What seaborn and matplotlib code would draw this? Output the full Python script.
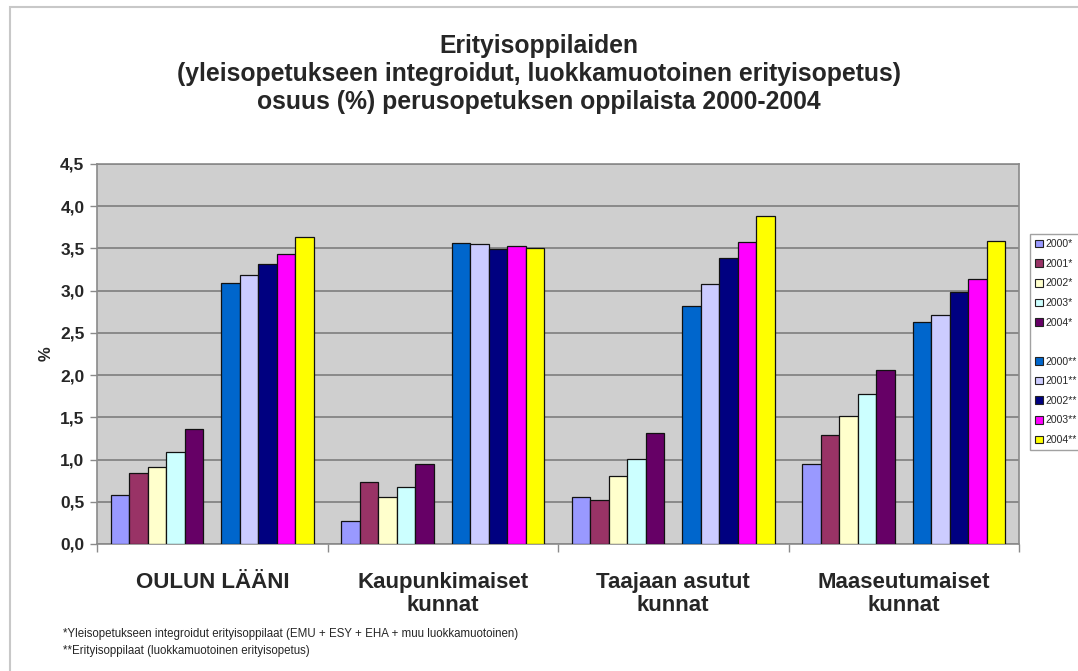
import matplotlib
matplotlib.use("Agg")
import matplotlib.pyplot as plt
import matplotlib.patches as mpatches
from matplotlib.ticker import FuncFormatter, FixedLocator
import seaborn as sns
import pandas as pd

# ---------------- data ----------------
categories = ["OULUN LÄÄNI", "Kaupunkimaiset\nkunnat", "Taajaan asutut\nkunnat", "Maaseutumaiset\nkunnat"]
series = ["2000*", "2001*", "2002*", "2003*", "2004*", " ",
          "2000**", "2001**", "2002**", "2003**", "2004**"]
v2000a = [0.58, 0.27, 0.56, 0.95]
v2001a = [0.84, 0.73, 0.52, 1.29]
v2002a = [0.91, 0.56, 0.81, 1.51]
v2003a = [1.09, 0.68, 1.01, 1.78]
v2004a = [1.36, 0.95, 1.31, 2.06]
blank = [0.0, 0.0, 0.0, 0.0]
v2000b = [3.09, 3.56, 2.82, 2.63]
v2001b = [3.18, 3.55, 3.08, 2.71]
v2002b = [3.31, 3.49, 3.39, 2.98]
v2003b = [3.43, 3.53, 3.58, 3.14]
v2004b = [3.63, 3.51, 3.89, 3.59]
values = [v2000a, v2001a, v2002a, v2003a, v2004a, blank,
          v2000b, v2001b, v2002b, v2003b, v2004b]
colors = ["#9999FF", "#993366", "#FFFFCC", "#CCFFFF", "#660066", "#FFFFFF",
          "#0066CC", "#CCCCFF", "#000080", "#FF00FF", "#FFFF00"]
yticks = [0.0, 0.5, 1.0, 1.5, 2.0, 2.5, 3.0, 3.5, 4.0, 4.5]
title = ("Erityisoppilaiden\n(yleisopetukseen integroidut, luokkamuotoinen erityisopetus)\n"
         "osuus (%) perusopetuksen oppilaista 2000-2004")
note1 = "*Yleisopetukseen integroidut erityisoppilaat (EMU + ESY + EHA + muu luokkamuotoinen)"
note2 = "**Erityisoppilaat (luokkamuotoinen erityisopetus)"

rows = []
for s, vals in zip(series, values):
    for c, v in zip(categories, vals):
        rows.append({"cat": c, "series": s, "value": v})
df = pd.DataFrame(rows)

# ---------------- style ----------------
sns.set_theme(style="white")
plt.rcParams["font.family"] = ["Liberation Sans", "DejaVu Sans"]

W, H = 1078, 671
fig = plt.figure(figsize=(W / 100, H / 100), dpi=100)
fig.patch.set_facecolor("white")
ax = fig.add_axes([97 / W, 1 - 544 / H, (1019 - 97) / W, (544 - 164) / H])
ax.set_facecolor("#CFCFCF")

palette = dict(zip(series, colors))
sns.barplot(data=df, x="cat", y="value", hue="series", order=categories,
            hue_order=series, palette=palette, width=0.88, saturation=1,
            edgecolor="#111111", linewidth=0.9, legend=False, ax=ax, zorder=3)

# hide the empty spacer series
for p in ax.patches:
    if p.get_height() == 0:
        p.set_visible(False)

ax.set_ylim(0, 4.5)
ax.set_xlim(-0.5, len(categories) - 0.5)
ax.yaxis.set_major_locator(FixedLocator(yticks))
ax.yaxis.set_major_formatter(FuncFormatter(lambda v, p: f"{v:.1f}".replace(".", ",")))
ax.grid(axis="y", color="#8A8A8A", linewidth=1.4, zorder=0)
ax.set_axisbelow(True)
for sp in ax.spines.values():
    sp.set_color("#8A8A8A")
    sp.set_linewidth(1.2)

ax.tick_params(axis="y", which="major", left=True, length=5, width=1, color="#8A8A8A",
               labelsize=12.5, pad=4)
for lab in ax.get_yticklabels():
    lab.set_fontweight("bold")

ax.set_xticks(range(len(categories)))
ax.set_xticklabels(categories, fontsize=16, fontweight="bold", linespacing=1.15)
ax.tick_params(axis="x", which="major", length=0, pad=20)
ax.set_xticks([i - 0.5 for i in range(len(categories) + 1)], minor=True)
ax.tick_params(axis="x", which="minor", bottom=True, length=6, width=1, color="#8A8A8A")

ax.set_xlabel("")
ax.set_ylabel("%", fontsize=12, fontweight="bold", labelpad=5)

# legend
handles = []
for s, c in zip(series, colors):
    if s.strip() == "":
        handles.append(mpatches.Patch(facecolor="none", edgecolor="none", label=" "))
    else:
        handles.append(mpatches.Patch(facecolor=c, edgecolor="#222222", linewidth=0.8, label=s))
leg = fig.legend(handles=handles, loc="upper left", bbox_to_anchor=(1030 / W, 1 - 234 / H),
                 fontsize=7.5, frameon=True, fancybox=False, handlelength=0.75, handleheight=0.75,
                 handletextpad=0.25, labelspacing=0.92, borderpad=0.5, borderaxespad=0)
leg.get_frame().set_edgecolor("#8A8A8A")
leg.get_frame().set_linewidth(1.0)

# title and notes
fig.text(0.5, 1 - 74 / H, title, ha="center", va="center", fontsize=17.8,
         fontweight="bold", linespacing=1.22)
fig.text(63 / W, 1 - 634 / H, note1, ha="left", va="center", fontsize=8.3)
fig.text(63 / W, 1 - 651 / H, note2, ha="left", va="center", fontsize=8.3)

# chart frame
fig.add_artist(mpatches.Rectangle((10 / W, -0.05), 1.2, 1 - 7 / H + 0.05,
                                  transform=fig.transFigure, fill=False,
                                  edgecolor="#C8C8C8", linewidth=1.5))

fig.savefig("out.png", dpi=100)
